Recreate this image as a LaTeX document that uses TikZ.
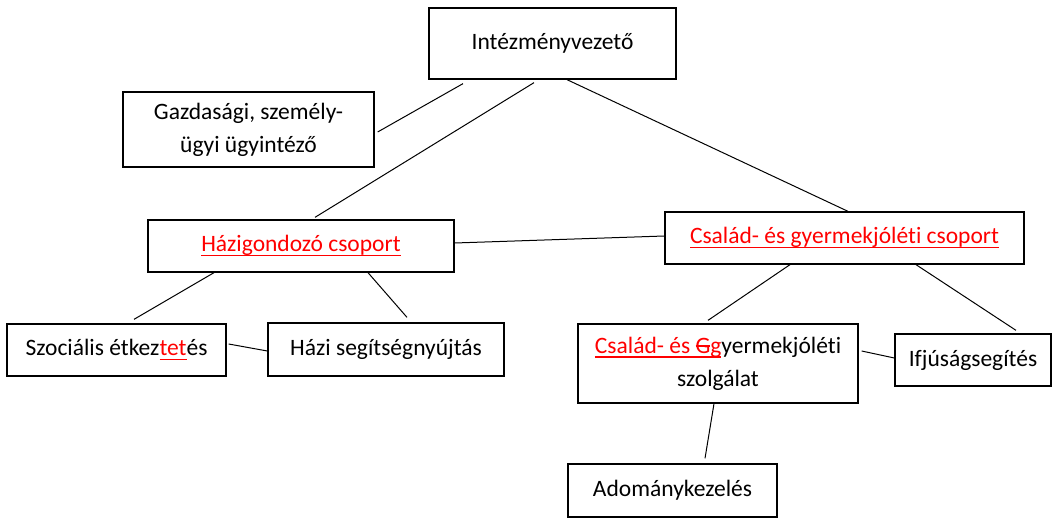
\documentclass[tikz,border=0pt]{standalone}
\usepackage{fontspec}
\setmainfont{Carlito}[Ligatures=NoCommon]
\usepackage{xcolor}
\definecolor{edit}{HTML}{FF0000}
\newsavebox{\markbox}
\newcommand{\edited}[1]{{\color{edit}\sbox{\markbox}{#1}\rlap{\usebox{\markbox}}\rule[-4.5pt]{\wd\markbox}{1.6pt}}}
\newcommand{\struck}[1]{\sbox{\markbox}{#1}\rlap{\usebox{\markbox}}\rule[6.5pt]{\wd\markbox}{1.6pt}}
\tikzset{
  box/.style={draw=black, line width=1.3pt, align=center, inner sep=0pt,
    font=\fontsize{23.5}{33}\selectfont},
  link/.style={draw=black, line width=1pt}
}

\begin{document}
\begin{tikzpicture}[x=1pt, y=-1pt]
  \useasboundingbox[fill=white] (0,0) rectangle (1053,521);

  \node[box, minimum width=247pt, minimum height=71pt] (boss) at (552.5,43.5) {Intézményvezető};
  \node[box, minimum width=251pt, minimum height=75pt] (gazd) at (248.5,129.5) {Gazdasági, személy-\\ügyi ügyintéző};
  \node[box, minimum width=306pt, minimum height=52pt] (hazi) at (301,246) {\edited{Házigondozó csoport}};
  \node[box, minimum width=359pt, minimum height=52pt] (csal) at (844.5,238) {\edited{Család- és gyermekjóléti csoport}};
  \node[box, minimum width=219pt, minimum height=52pt] (szoc) at (116.5,350) {Szociális étkez\edited{tet}és};
  \node[box, minimum width=236pt, minimum height=53pt] (segit) at (386,349.5) {Házi segítségnyújtás};
  \node[box, minimum width=280pt, minimum height=79pt] (szolg) at (718,363.5)
    {\edited{Család- és }\edited{\struck{G}g}yermekjóléti\\szolgálat};
  \node[box, minimum width=156pt, minimum height=52pt] (ifju) at (973,360) {Ifjúságsegítés};
  \node[box, minimum width=209pt, minimum height=53pt] (adom) at (672.5,490.5) {Adománykezelés};

  \draw[link] ([xshift=-89.5pt, yshift=-4pt]boss.south) -- ([xshift=3pt, yshift=-2.5pt]gazd.east);
  \draw[link] ([xshift=-18.5pt, yshift=-3pt]boss.south) -- ([xshift=14pt, yshift=2pt]hazi.north);
  \draw[link] ([xshift=14.5pt]boss.south) -- ([xshift=3.5pt]csal.north);
  \draw[link] ([yshift=3pt]hazi.east) -- ([yshift=2pt]csal.west);
  \draw[link] ([xshift=-87pt]hazi.south) -- ([xshift=17.5pt, yshift=4pt]szoc.north);
  \draw[link] ([xshift=67pt]hazi.south) -- ([xshift=21pt, yshift=5pt]segit.north);
  \draw[link] ([xshift=2pt, yshift=6pt]szoc.east) -- ([yshift=-1.5pt]segit.west);
  \draw[link] ([xshift=-54.5pt]csal.south) -- ([xshift=-10pt, yshift=3pt]szolg.north);
  \draw[link] ([xshift=71.5pt]csal.south) -- ([xshift=43pt, yshift=3pt]ifju.north);
  \draw[link] ([xshift=3pt, yshift=12.5pt]szolg.east) -- ([yshift=2pt]ifju.west);
  \draw[link] ([xshift=-4pt]szolg.south) -- ([xshift=32.5pt, yshift=5pt]adom.north);
\end{tikzpicture}
\end{document}
